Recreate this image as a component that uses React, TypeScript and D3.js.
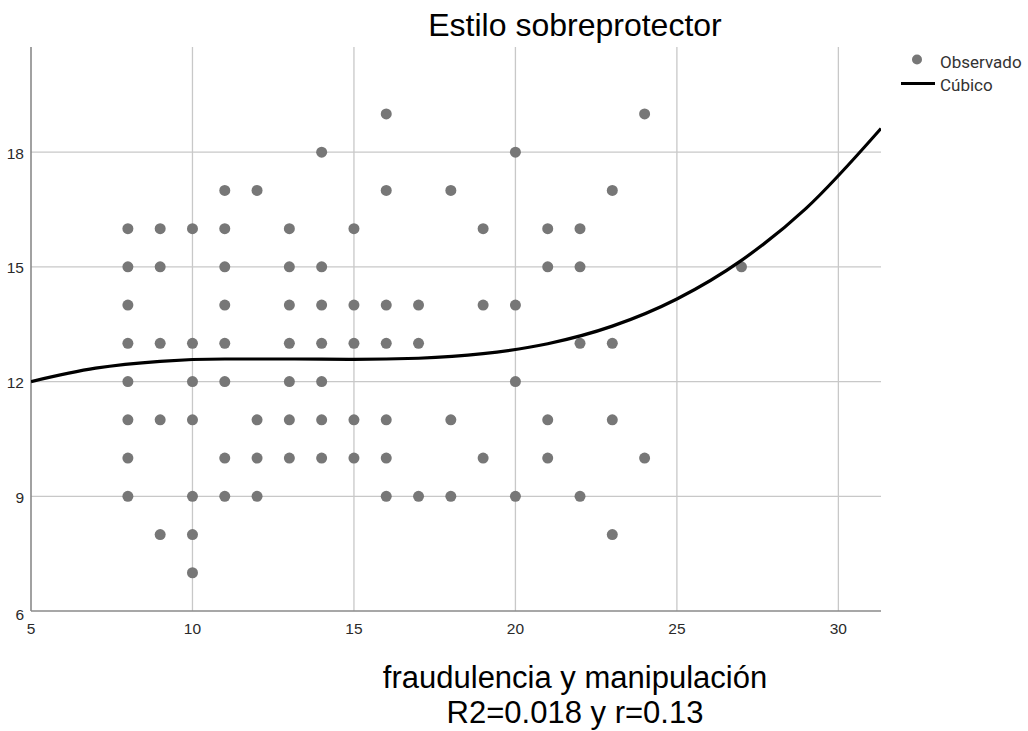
import React from "react";
import * as d3 from "d3";

// Observed points (x = fraudulencia y manipulación, y = estilo sobreprotector)
const obsX = [
  8, 8, 8, 8, 8, 8, 8, 8,
  9, 9, 9, 9, 9,
  10, 10, 10, 10, 10, 10, 10,
  11, 11, 11, 11, 11, 11, 11, 11,
  12, 12, 12, 12,
  13, 13, 13, 13, 13, 13, 13,
  14, 14, 14, 14, 14, 14, 14,
  15, 15, 15, 15, 15,
  16, 16, 16, 16, 16, 16, 16,
  17, 17, 17,
  18, 18, 18,
  19, 19, 19,
  20, 20, 20, 20,
  21, 21, 21, 21,
  22, 22, 22, 22,
  23, 23, 23, 23,
  24, 24,
  27,
];
const obsY = [
  16, 15, 14, 13, 12, 11, 10, 9,
  16, 15, 13, 11, 8,
  16, 13, 12, 11, 9, 8, 7,
  17, 16, 15, 14, 13, 12, 10, 9,
  17, 11, 10, 9,
  16, 15, 14, 13, 12, 11, 10,
  18, 15, 14, 13, 12, 11, 10,
  16, 14, 13, 11, 10,
  19, 17, 14, 13, 11, 10, 9,
  14, 13, 9,
  17, 11, 9,
  16, 14, 10,
  18, 14, 12, 9,
  16, 15, 11, 10,
  16, 15, 13, 9,
  17, 13, 11, 8,
  19, 10,
  15,
];

// Cubic fit curve
const curveX = [5, 7, 9, 11, 13, 15, 17, 19, 21, 23, 25, 27, 29, 31.32];
const curveY = [12.0, 12.35, 12.53, 12.59, 12.59, 12.58, 12.61, 12.73, 12.99, 13.45, 14.16, 15.17, 16.53, 18.62];

const xTicks = [5, 10, 15, 20, 25, 30];
const yTicks = [6, 9, 12, 15, 18];
const xDomain = [5, 31.32];
const yDomain = [6, 20.75];

const title = "Estilo sobreprotector";
const xLabel1 = "fraudulencia y manipulación";
const xLabel2 = "R2=0.018 y r=0.13";
const legendLabels = ["Observado", "Cúbico"];

export default function App() {
  const W = 1028;
  const H = 731;
  const left = 31, right = 881, top = 47, bottom = 611;
  const x = d3.scaleLinear().domain(xDomain).range([left, right]);
  const y = d3.scaleLinear().domain(yDomain).range([bottom, top]);

  const pts = obsX.map((v, i) => [v, obsY[i]] as [number, number]);
  const cpts = curveX.map((v, i) => [v, curveY[i]] as [number, number]);
  const line = d3
    .line<[number, number]>()
    .x((d) => x(d[0]))
    .y((d) => y(d[1]))
    .curve(d3.curveMonotoneX);

  const gridColor = "#c8c8c8";
  const axisColor = "#8a8a8a";
  const dotColor = "#777777";
  const tickFont = "'Liberation Sans', Arial, sans-serif";

  return (
    <svg
      width={W}
      height={H}
      style={{ position: "absolute", left: 0, top: 0, background: "#fff" }}
    >
      <defs>
        <clipPath id="plotclip">
          <rect x={left} y={top - 2} width={right - left} height={bottom - top + 2} />
        </clipPath>
      </defs>
      <rect x={0} y={0} width={W} height={H} fill="#fff" />

      {/* grid */}
      {xTicks
        .filter((t) => t !== xDomain[0])
        .map((t) => (
          <line
            key={"gx" + t}
            x1={x(t)}
            x2={x(t)}
            y1={top}
            y2={bottom}
            stroke={gridColor}
            strokeWidth={1.3}
          />
        ))}
      {yTicks
        .filter((t) => t !== yDomain[0])
        .map((t) => (
          <line
            key={"gy" + t}
            x1={left}
            x2={right}
            y1={y(t)}
            y2={y(t)}
            stroke={gridColor}
            strokeWidth={1.3}
          />
        ))}

      {/* axes */}
      <line x1={left} x2={left} y1={top} y2={bottom} stroke={axisColor} strokeWidth={1.6} />
      <line x1={left} x2={right} y1={bottom} y2={bottom} stroke={axisColor} strokeWidth={1.6} />

      {/* tick labels */}
      {xTicks.map((t) => (
        <text
          key={"tx" + t}
          x={x(t)}
          y={634}
          textAnchor="middle"
          fontFamily={tickFont}
          fontSize={15.5}
          fill="#2a2a2a"
        >
          {t}
        </text>
      ))}
      {yTicks.map((t) => (
        <text
          key={"ty" + t}
          x={24}
          y={y(t) + (t === yDomain[0] ? 8.5 : 6.5)}
          textAnchor="end"
          fontFamily={tickFont}
          fontSize={15.5}
          fill="#2a2a2a"
        >
          {t}
        </text>
      ))}

      {/* points */}
      {pts.map((d, i) => (
        <circle key={"p" + i} cx={x(d[0])} cy={y(d[1])} r={5.5} fill={dotColor} />
      ))}

      {/* cubic curve */}
      <path
        d={line(cpts) || ""}
        fill="none"
        stroke="#000"
        strokeWidth={3.2}
        clipPath="url(#plotclip)"
      />

      {/* title */}
      <text
        x={575}
        y={36}
        textAnchor="middle"
        fontFamily={tickFont}
        fontSize={32}
        fill="#000"
      >
        {title}
      </text>

      {/* x labels */}
      <text x={575} y={688} textAnchor="middle" fontFamily={tickFont} fontSize={31} fill="#000">
        {xLabel1}
      </text>
      <text x={575} y={723} textAnchor="middle" fontFamily={tickFont} fontSize={31} fill="#000">
        {xLabel2}
      </text>

      {/* legend */}
      <circle cx={917} cy={59.5} r={5} fill={dotColor} />
      <text x={940} y={67.5} fontFamily="Roboto, sans-serif" fontSize={17} fill="#333">
        {legendLabels[0]}
      </text>
      <line x1={901} x2={935} y1={83.5} y2={83.5} stroke="#000" strokeWidth={3} />
      <text x={940} y={90.5} fontFamily="Roboto, sans-serif" fontSize={17} fill="#333">
        {legendLabels[1]}
      </text>
    </svg>
  );
}
